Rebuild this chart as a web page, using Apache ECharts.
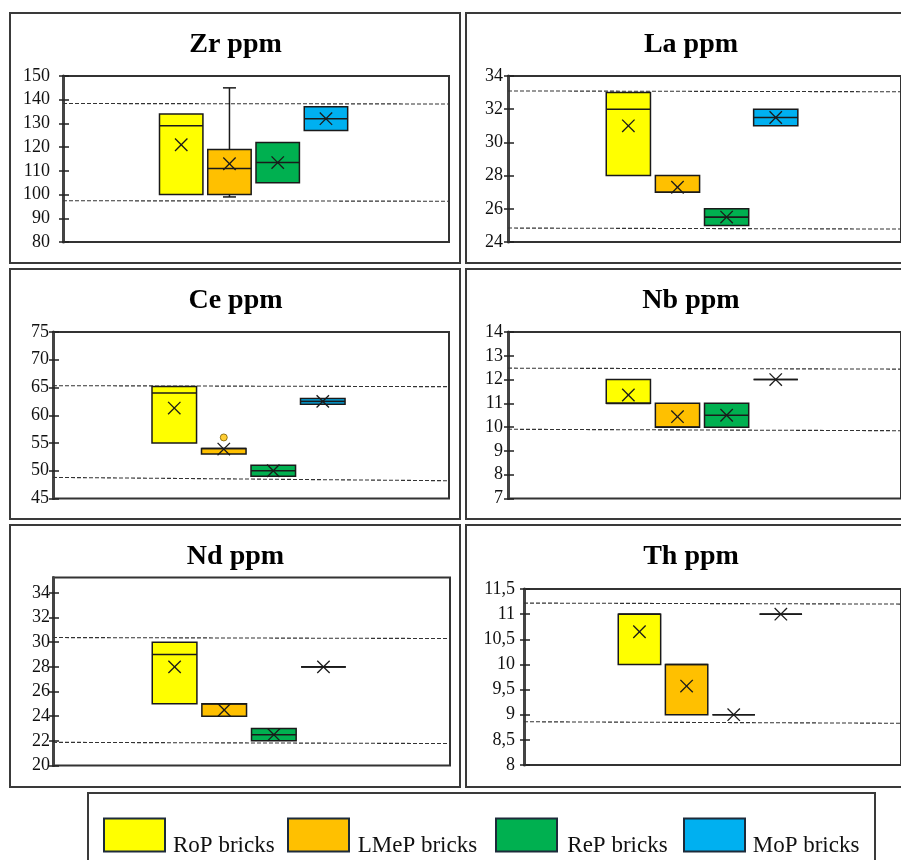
<!DOCTYPE html>
<html><head><meta charset="utf-8">
<script src="https://cdn.jsdelivr.net/npm/echarts@6/dist/echarts.min.js"></script>
<style>html,body{margin:0;padding:0;background:#fff}#c{width:901px;height:860px}</style>
</head><body><div id="c"></div>
<script>
// ---------- data ----------
const groups = ['RoP bricks', 'LMeP bricks', 'ReP bricks', 'MoP bricks'];
const titles = ['Zr ppm', 'La ppm', 'Ce ppm', 'Nb ppm', 'Nd ppm', 'Th ppm'];
// each row: [min, q1, median, q3, max, mean]
const zrBoxes = [[100,100,129,134,134,121],[99,100,111,119,145,113],[105,105,113.5,122,122,113.5],[127,127,132,137,137,132]];
const laBoxes = [[28,28,32,33,33,31],[27,27,27,28,28,27.3],[25,25,25.5,26,26,25.5],[31,31,31.5,32,32,31.5]];
const ceBoxes = [[55,55,64,65.2,65.2,61.3],[53,53,54,54,54,53.9],[49,49,50,51,51,50],[62,62,62.5,63,63,62.5]];
const nbBoxes = [[11,11,11,12,12,11.35],[10,10,10,11,11,10.44],[10,10,10.5,11,11,10.5],[12,12,12,12,12,12]];
const ndBoxes = [[25,25,29,30,30,28],[24,24,25,25,25,24.5],[22,22,22.5,23,23,22.5],[28,28,28,28,28,28]];
const thBoxes = [[10,10,11,11,11,10.65],[9,9,10,10,10,9.57],[9,9,9,9,9,9],[11,11,11,11,11,11]];
const ceOutliers = [[1, 56]]; // [group index, value]
// dashed reference lines: [value at left, value at right]
const zrLines = [[138.4,138.2],[97.4,97.2]];
const laLines = [[33.1,33.05],[24.84,24.78]];
const ceLines = [[65.33,65.15],[48.8,48.2]];
const nbLines = [[12.48,12.44],[9.91,9.85]];
const ndLines = [[30.38,30.3],[21.88,21.78]];
const thLines = [[11.22,11.2],[8.86,8.83]];
// tick values
const zrTicks = [80,90,100,110,120,130,140,150];
const laTicks = [24,26,28,30,32,34];
const ceTicks = [45,50,55,60,65,70,75];
const nbTicks = [7,8,9,10,11,12,13,14];
const ndTicks = [20,22,24,26,28,30,32,34];
const thTicks = [8,8.5,9,9.5,10,10.5,11,11.5];

// ---------- styles / layout ----------
const colors = ['#FFFF00', '#FFC000', '#00B050', '#00B0F0'];
const serif = '"Liberation Serif", "Times New Roman", serif';
const panels = [
  {boxes: zrBoxes, lines: zrLines, ticks: zrTicks, min: 80, max: 150, interval: 10},
  {boxes: laBoxes, lines: laLines, ticks: laTicks, min: 24, max: 34, interval: 2},
  {boxes: ceBoxes, lines: ceLines, ticks: ceTicks, min: 45, max: 75, interval: 5, outliers: ceOutliers},
  {boxes: nbBoxes, lines: nbLines, ticks: nbTicks, min: 7, max: 14, interval: 1},
  {boxes: ndBoxes, lines: ndLines, ticks: ndTicks, min: 20, max: 35.25, interval: 2},
  {boxes: thBoxes, lines: thLines, ticks: thTicks, min: 8, max: 11.5, interval: 0.5}
];
const layout = [
  {grid: {left: 63, top: 76, width: 386, height: 166}, margin: 13, frame: [10, 13, 450, 250], titleXY: [235.5, 44.5]},
  {grid: {left: 508, top: 76, width: 398, height: 166}, margin: 5, frame: [466, 13, 450, 250], titleXY: [691, 44.5]},
  {grid: {left: 53, top: 332, width: 396, height: 166.5}, margin: 4, frame: [10, 269, 450, 250], titleXY: [235.5, 300.5]},
  {grid: {left: 508, top: 332, width: 398, height: 166.5}, margin: 5, frame: [466, 269, 450, 250], titleXY: [691, 300.5]},
  {grid: {left: 53, top: 577.5, width: 397, height: 188}, margin: 3, frame: [10, 525, 450, 262], titleXY: [235.5, 556.5]},
  {grid: {left: 524, top: 589, width: 381, height: 176}, margin: 9, frame: [466, 525, 450, 262], titleXY: [691, 556.5]}
];
// legend layout: swatch x, text x
const legendSwatchX = [104, 288, 496, 684];
const legendTextX = [173, 357.7, 567.3, 752.7];
const ink = '#1a1a1a';

function ln(x1, y1, x2, y2, w) {
  return {type: 'line', shape: {x1, y1, x2, y2}, style: {stroke: ink, lineWidth: w || 1.5}};
}
function renderBox(params, api) {
  const x = api.value(0), mn = api.value(1), q1 = api.value(2), md = api.value(3),
        q3 = api.value(4), mx = api.value(5), mean = api.value(6);
  const hw = 0.45, cap = 6.5, s = 6.2;
  const tl = api.coord([x - hw, q3]);
  const br = api.coord([x + hw, q1]);
  const cx = api.coord([x, q1])[0];
  const ch = [];
  if (mx > q3) { const p = api.coord([x, mx]); ch.push(ln(cx, tl[1], cx, p[1])); ch.push(ln(cx - cap, p[1], cx + cap, p[1])); }
  if (mn < q1) { const p = api.coord([x, mn]); ch.push(ln(cx, br[1], cx, p[1])); ch.push(ln(cx - cap, p[1], cx + cap, p[1])); }
  ch.push({type: 'rect', shape: {x: tl[0], y: tl[1], width: br[0] - tl[0], height: br[1] - tl[1]},
           style: {fill: api.visual('color'), stroke: ink, lineWidth: 1.5}});
  const m = api.coord([x, md]);
  ch.push(ln(tl[0], m[1], br[0], m[1], 1.6));
  const a = api.coord([x, mean]);
  ch.push(ln(a[0] - s, a[1] - s, a[0] + s, a[1] + s, 1.3));
  ch.push(ln(a[0] - s, a[1] + s, a[0] + s, a[1] - s, 1.3));
  return {type: 'group', children: ch};
}

const grid = [], xAxis = [], yAxis = [], series = [], graphic = [];
panels.forEach((p, i) => {
  const L = layout[i];
  grid.push(Object.assign({show: true, borderColor: '#333', borderWidth: 2, backgroundColor: 'transparent'}, L.grid));
  xAxis.push({gridIndex: i, type: 'value', min: 0, max: 8, show: false});
  const fmt = v => String(v).replace('.', ',');
  yAxis.push({
    gridIndex: i, type: 'value', min: p.min, max: p.max, interval: p.interval, position: 'left',
    axisLine: {show: true, lineStyle: {color: '#444', width: 3}},
    axisTick: {show: true, length: 4, lineStyle: {color: '#222', width: 1.5}, customValues: p.ticks},
    axisLabel: {margin: L.margin, fontSize: 18, fontFamily: serif, color: '#111', customValues: p.ticks,
                formatter: fmt, showMaxLabel: true, showMinLabel: true},
    splitLine: {show: false}
  });
  yAxis.push({
    gridIndex: i, type: 'value', min: p.min, max: p.max, interval: p.interval, position: 'left', offset: 0,
    axisLine: {show: false},
    axisTick: {show: true, inside: true, length: 6, lineStyle: {color: '#222', width: 1.5}, customValues: p.ticks},
    axisLabel: {show: false}, splitLine: {show: false}
  });
  p.lines.forEach(l => {
    series.push({type: 'line', xAxisIndex: i, yAxisIndex: 2 * i, data: [[0, l[0]], [8, l[1]]], symbol: 'none',
      silent: true, z: 2, lineStyle: {type: [4, 2], width: 1.1, color: '#333'}});
  });
  p.boxes.forEach((b, g) => {
    series.push({name: groups[g], type: 'custom', xAxisIndex: i, yAxisIndex: 2 * i, z: 3,
      itemStyle: {color: colors[g]}, renderItem: renderBox,
      encode: {x: 0, y: [1, 2, 3, 4, 5, 6]}, data: [[2.45 + g].concat(b)]});
  });
  if (p.outliers) {
    series.push({type: 'scatter', xAxisIndex: i, yAxisIndex: 2 * i, z: 4, symbol: 'circle', symbolSize: 7,
      itemStyle: {color: '#FFC000', borderColor: '#7a5c00', borderWidth: 1},
      data: p.outliers.map(o => [2.45 + o[0], o[1]])});
  }
  const f = L.frame;
  graphic.push({type: 'rect', shape: {x: f[0], y: f[1], width: f[2], height: f[3]},
    style: {fill: 'none', stroke: '#3a3a3a', lineWidth: 2}, silent: true});
  graphic.push({type: 'text', x: L.titleXY[0], y: L.titleXY[1],
    style: {text: titles[i], fontSize: 28, fontWeight: 'bold', fontFamily: serif, fill: '#000',
            align: 'center', verticalAlign: 'middle'}});
});
// legend box
graphic.push({type: 'rect', shape: {x: 88, y: 793, width: 787, height: 90},
  style: {fill: 'none', stroke: '#3a3a3a', lineWidth: 2}, silent: true});
groups.forEach((g, k) => {
  graphic.push({type: 'rect', shape: {x: legendSwatchX[k], y: 818.5, width: 61, height: 33},
    style: {fill: colors[k], stroke: '#1d2b3a', lineWidth: 2}});
  graphic.push({type: 'text', x: legendTextX[k], y: 845.5,
    style: {text: g, fontSize: 23, fontFamily: serif, fill: '#111', align: 'left', verticalAlign: 'middle'}});
});

const chart = echarts.init(document.getElementById('c'), null, {renderer: 'canvas'});
chart.setOption({
  animation: false,
  backgroundColor: '#fff',
  grid, xAxis, yAxis, series, graphic
});
</script></body></html>
